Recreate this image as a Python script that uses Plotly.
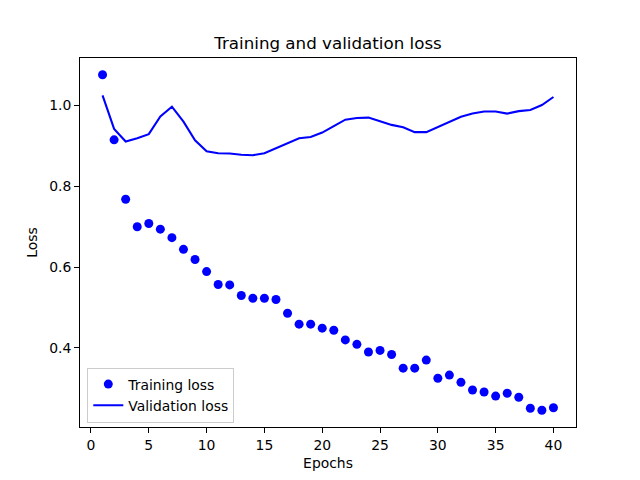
import plotly.graph_objects as go

epochs = list(range(1, 41))
training_loss = [1.076, 0.915, 0.768, 0.700, 0.708, 0.694, 0.673, 0.644, 0.619, 0.589,
                 0.557, 0.556, 0.530, 0.523, 0.523, 0.520, 0.486, 0.459, 0.459, 0.449,
                 0.444, 0.420, 0.409, 0.390, 0.394, 0.384, 0.350, 0.350, 0.370, 0.325,
                 0.333, 0.315, 0.296, 0.291, 0.281, 0.288, 0.278, 0.251, 0.246, 0.252]
validation_loss = [1.025, 0.942, 0.911, 0.919, 0.929, 0.973, 0.997, 0.960, 0.914, 0.887,
                   0.882, 0.881, 0.878, 0.877, 0.882, 0.894, 0.906, 0.919, 0.922, 0.933,
                   0.949, 0.965, 0.969, 0.970, 0.961, 0.952, 0.946, 0.934, 0.934, 0.947,
                   0.960, 0.972, 0.980, 0.985, 0.985, 0.980, 0.986, 0.989, 1.001, 1.021]
x_ticks = [0, 5, 10, 15, 20, 25, 30, 35, 40]
y_ticks = [0.4, 0.6, 0.8, 1.0]

FONT = "DejaVu Sans"
fs = 13.9

fig = go.Figure()
fig.add_trace(go.Scatter(x=epochs, y=training_loss, mode="markers", name="Training loss",
                         marker=dict(color="#0000ff", size=9, line=dict(width=0))))
fig.add_trace(go.Scatter(x=epochs, y=validation_loss, mode="lines", name="Validation loss",
                         line=dict(color="#0000ff", width=2.08)))

ymin, ymax = min(training_loss + validation_loss), max(training_loss + validation_loss)
pad_y = (ymax - ymin) * 0.05
pad_x = (max(epochs) - min(epochs)) * 0.05

fig.update_layout(
    width=640, height=480,
    margin=dict(l=80, r=64, t=58, b=53),
    paper_bgcolor="white", plot_bgcolor="white",
    font=dict(family=FONT, size=fs, color="black"),
    title=dict(text="Training and validation loss", x=0.5, xref="paper", xanchor="center",
               y=1 - 43 / 480, yanchor="middle", font=dict(size=16.7, family=FONT, color="black")),
    showlegend=True,
    legend=dict(x=0.0147, y=0.012, xanchor="left", yanchor="bottom",
                bgcolor="rgba(255,255,255,0.8)", bordercolor="#cccccc", borderwidth=1,
                font=dict(size=fs, family=FONT, color="black"), tracegroupgap=0),
    xaxis=dict(range=[min(epochs) - pad_x, max(epochs) + pad_x], tickvals=x_ticks,
               ticktext=[str(t) for t in x_ticks],
               showgrid=False, zeroline=False, showline=True, linecolor="black", linewidth=1,
               mirror=True, ticks="outside", ticklen=5, tickwidth=1, tickcolor="black",
               title=dict(text="Epochs", font=dict(size=fs, family=FONT), standoff=6)),
    yaxis=dict(range=[ymin - pad_y, ymax + pad_y], tickvals=y_ticks,
               ticktext=["0.4", "0.6", "0.8", "1.0"],
               showgrid=False, zeroline=False, showline=True, linecolor="black", linewidth=1,
               mirror=True, ticks="outside", ticklen=5, tickwidth=1, tickcolor="black",
               title=dict(text="Loss", font=dict(size=fs, family=FONT), standoff=8)),
)

fig.write_html("out.html", config={"displayModeBar": False},
               post_script="document.body.style.margin='0';")
